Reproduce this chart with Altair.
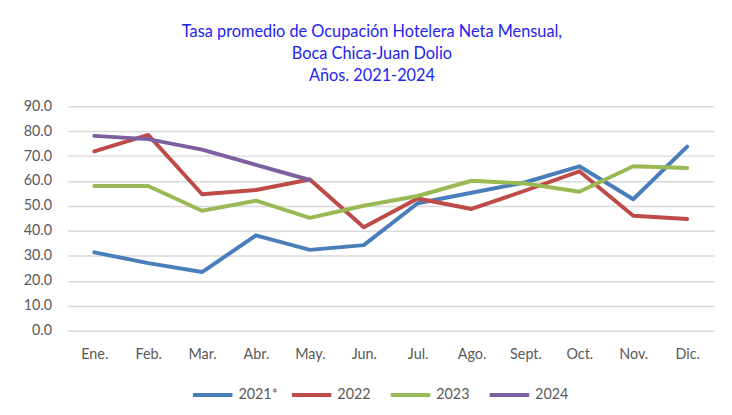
import altair as alt
import pandas as pd

months = ["Ene.", "Feb.", "Mar.", "Abr.", "May.", "Jun.", "Jul.", "Ago.", "Sept.", "Oct.", "Nov.", "Dic."]
s2021 = [31.4, 27.1, 23.5, 38.2, 32.4, 34.3, 51.1, 55.3, 59.5, 65.9, 52.7, 73.8]
s2022 = [71.9, 78.5, 54.7, 56.4, 60.6, 41.5, 53.0, 48.8, 56.2, 63.9, 46.1, 44.8]
s2023 = [58.0, 58.0, 48.1, 52.1, 45.2, 50.1, 54.0, 60.1, 59.0, 55.7, 65.9, 65.2]
s2024 = [78.1, 76.8, 72.6, 66.5, 60.4]
series_names = ["2021*", "2022", "2023", "2024"]
colors = ["#4A7EBB", "#BE4B48", "#98B954", "#7D60A0"]

rows = []
for name, vals in zip(series_names, [s2021, s2022, s2023, s2024]):
    for m, v in zip(months, vals):
        rows.append({"Mes": m, "Serie": name, "Valor": v})
df = pd.DataFrame(rows)

FONT = "Lato"
TXT = "#595959"

lines = alt.Chart(df).mark_line(strokeWidth=4, strokeCap="round", strokeJoin="round").encode(
    x=alt.X("Mes:N", sort=months, scale=alt.Scale(type="point", padding=0.5),
            axis=alt.Axis(title=None, labelAngle=0, ticks=False, domain=False, grid=False,
                          labelPadding=17, labelFontSize=14.5, labelColor=TXT, labelFont=FONT)),
    y=alt.Y("Valor:Q", scale=alt.Scale(domain=[0, 90], nice=False),
            axis=alt.Axis(title=None, values=list(range(0, 91, 10)), format=".1f", ticks=False,
                          domain=False, gridColor="#D9D9D9", gridWidth=1.5, labelPadding=16,
                          labelFontSize=14.5, labelColor=TXT, labelFont=FONT)),
    color=alt.Color("Serie:N", sort=series_names,
                    scale=alt.Scale(domain=series_names, range=colors),
                    legend=alt.Legend(title=None, orient="none", direction="horizontal",
                                      legendX=125, legendY=270, symbolType="stroke",
                                      symbolStrokeWidth=4, symbolSize=1600, symbolOffset=0,
                                      labelFontSize=14.5, labelColor=TXT, labelFont=FONT,
                                      labelOffset=4, columnPadding=6, gridAlign="all")),
    order=alt.Order("idx:Q"),
).transform_calculate(idx="indexof(%s, datum.Mes)" % str(months))

chart = lines.properties(
    width=654, height=227,
    title=alt.Title(
        ["Tasa promedio de Ocupación Hotelera Neta Mensual,", "Boca Chica-Juan Dolio", "Años. 2021-2024"],
        fontSize=16.5, font=FONT, color="#2323F0", fontWeight="normal", lineHeight=22,
        anchor="middle", dx=-19, offset=14,
    ),
).configure_view(stroke=None).properties(
    autosize=alt.AutoSizeParams(type="none"),
    padding={"left": 60, "top": 97, "right": 10, "bottom": 85},
)

chart.save("out.html", embed_options={"renderer": "svg", "actions": False})
